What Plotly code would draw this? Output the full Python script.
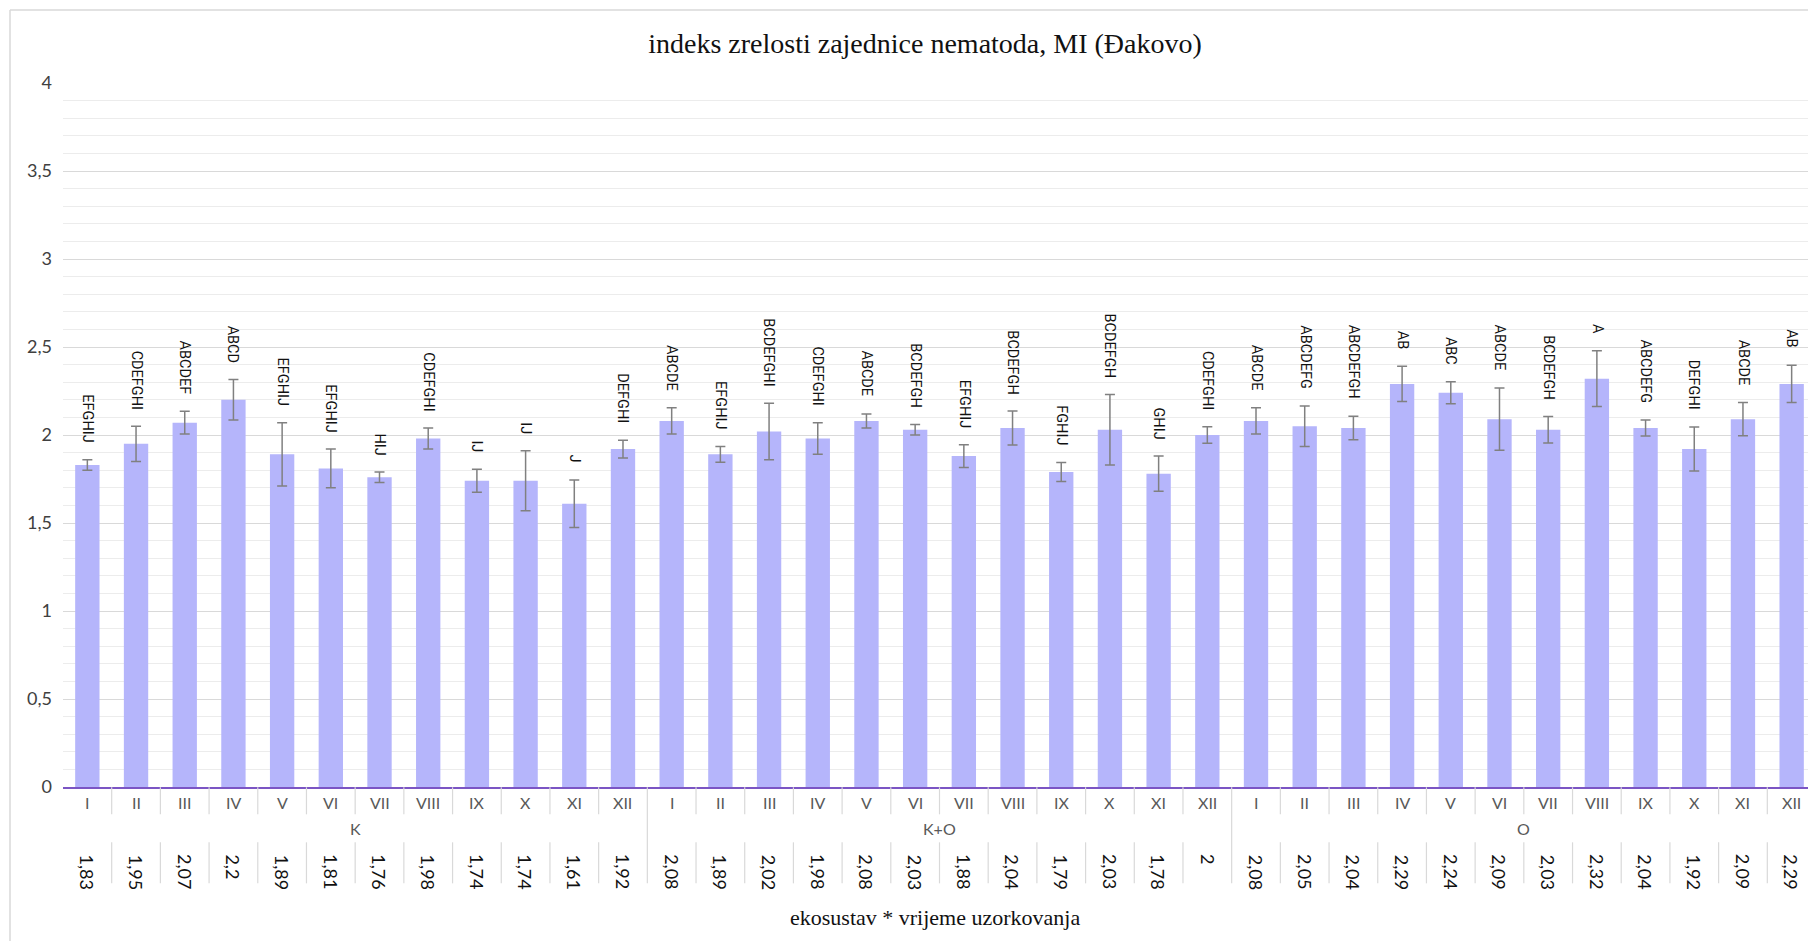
import plotly.graph_objects as go

# --- data ---
months = ["I", "II", "III", "IV", "V", "VI", "VII", "VIII", "IX", "X", "XI", "XII"]
groups = ["K", "K+O", "O"]

mi_k = [1.83, 1.95, 2.07, 2.2, 1.89, 1.81, 1.76, 1.98, 1.74, 1.74, 1.61, 1.92]
mi_ko = [2.08, 1.89, 2.02, 1.98, 2.08, 2.03, 1.88, 2.04, 1.79, 2.03, 1.78, 2]
mi_o = [2.08, 2.05, 2.04, 2.29, 2.24, 2.09, 2.03, 2.32, 2.04, 1.92, 2.09, 2.29]

err_k = [0.03, 0.10, 0.065, 0.115, 0.18, 0.11, 0.03, 0.06, 0.065, 0.17, 0.135, 0.05]
err_ko = [0.075, 0.045, 0.16, 0.09, 0.04, 0.03, 0.065, 0.097, 0.054, 0.20, 0.10, 0.047]
err_o = [0.075, 0.115, 0.067, 0.10, 0.063, 0.177, 0.075, 0.158, 0.045, 0.125, 0.094, 0.106]

letters_k = ["EFGHIJ", "CDEFGHI", "ABCDEF", "ABCD", "EFGHIJ", "EFGHIJ", "HIJ", "CDEFGHI", "IJ", "IJ", "J", "DEFGHI"]
letters_ko = ["ABCDE", "EFGHIJ", "BCDEFGHI", "CDEFGHI", "ABCDE", "BCDEFGH", "EFGHIJ", "BCDEFGH", "FGHIJ", "BCDEFGH", "GHIJ", "CDEFGHI"]
letters_o = ["ABCDE", "ABCDEFG", "ABCDEFGH", "AB", "ABC", "ABCDE", "BCDEFGH", "A", "ABCDEFG", "DEFGHI", "ABCDE", "AB"]

values = mi_k + mi_ko + mi_o
errors = err_k + err_ko + err_o
letters = letters_k + letters_ko + letters_o
x = list(range(len(values)))

# --- geometry (page pixels; the page body adds an 8px margin) ---
OFF = 8
W, H = 1816 - OFF, 941 - OFF
ML = 63 - OFF
MT = 83 - OFF
Y0 = 786.7 - OFF
MB = H - Y0
PW = W - ML
PH = Y0 - MT


def py(px):
    return (Y0 - (px - OFF)) / PH


def pxx(px):
    return (px - OFF - ML) / PW


fig = go.Figure()
fig.add_trace(go.Bar(
    x=x, y=values,
    marker=dict(color="#b5b5fb", line=dict(width=0)),
    error_y=dict(type="data", array=errors, visible=True, color="#808080", thickness=1.5, width=5),
    width=0.5,
    hoverinfo="y",
))

ann = []
# letter labels above error bars
for i, (v, e, t) in enumerate(zip(values, errors, letters)):
    ann.append(dict(x=i, y=v + e, xref="x", yref="y", text=t, textangle=90, showarrow=False,
                    xanchor="center", yanchor="bottom", yshift=15,
                    font=dict(family="Roboto", size=14.5, color="#111111")))

# month labels, group labels, value row
for i in x:
    ann.append(dict(x=i, y=py(802), xref="x", yref="paper", text=months[i % 12], showarrow=False,
                    xanchor="center", yanchor="middle", font=dict(family="Lato", size=16, color="#595959")))
    ann.append(dict(x=i, y=py(852), xref="x", yref="paper", text=f"{values[i]:g}".replace(".", ","),
                    textangle=90, showarrow=False, xanchor="center", yanchor="top",
                    font=dict(family="Lato", size=18, color="#111111")))
for g, name in enumerate(groups):
    ann.append(dict(x=g * 12 + 5.5, y=py(828), xref="x", yref="paper", text=name, showarrow=False,
                    xanchor="center", yanchor="middle", font=dict(family="Lato", size=16, color="#595959")))

ann.append(dict(x=pxx(935), y=py(917), xref="paper", yref="paper", text="ekosustav * vrijeme uzorkovanja",
                showarrow=False, xanchor="center", yanchor="middle",
                font=dict(family="Liberation Serif", size=22, color="#111111")))

shapes = []
sep = "#d9d9d9"
for i in range(len(values)):
    xb = i + 0.5
    if (i + 1) % 12 == 0:
        shapes.append(dict(type="line", xref="x", yref="paper", x0=xb, x1=xb, y0=py(787), y1=py(883),
                           line=dict(color=sep, width=1.2)))
    else:
        shapes.append(dict(type="line", xref="x", yref="paper", x0=xb, x1=xb, y0=py(787), y1=py(814),
                           line=dict(color=sep, width=1.2)))
        shapes.append(dict(type="line", xref="x", yref="paper", x0=xb, x1=xb, y0=py(842), y1=py(883),
                           line=dict(color=sep, width=1.2)))
# chart border
shapes.append(dict(type="line", xref="paper", yref="paper", x0=pxx(10), x1=pxx(10), y0=py(10), y1=py(945),
                   line=dict(color="#d9d9d9", width=1.5)))
shapes.append(dict(type="line", xref="paper", yref="paper", x0=pxx(10), x1=pxx(1820), y0=py(10), y1=py(10),
                   line=dict(color="#d9d9d9", width=1.5)))

tv = [0, 0.5, 1, 1.5, 2, 2.5, 3, 3.5, 4]

fig.update_layout(
    width=W, height=H,
    margin=dict(l=ML, r=0, t=MT, b=MB, pad=0),
    paper_bgcolor="white", plot_bgcolor="white",
    showlegend=False,
    title=dict(text="indeks zrelosti zajednice nematoda, MI (Đakovo)", x=(925 - OFF) / W, xanchor="center",
               y=1 - (43 - OFF) / H, yanchor="middle", yref="container",
               font=dict(family="Liberation Serif", size=28, color="#111111")),
    xaxis=dict(range=[-0.5, 35.5], showticklabels=False, showgrid=False, zeroline=False,
               showline=True, linecolor="#7b55c4", linewidth=2, ticks=""),
    yaxis=dict(range=[0, 4], tickvals=tv, ticktext=[f"{v:g}".replace(".", ",") for v in tv],
               showgrid=True, gridcolor="#d9d9d9", gridwidth=1,
               zeroline=False, ticks="", ticklabelstandoff=10,
               tickfont=dict(family="Lato", size=18, color="#404040"),
               minor=dict(dtick=0.1, showgrid=True, gridcolor="#ececec", gridwidth=1)),
    annotations=ann,
    shapes=shapes,
)

fig.write_html("out.html")
